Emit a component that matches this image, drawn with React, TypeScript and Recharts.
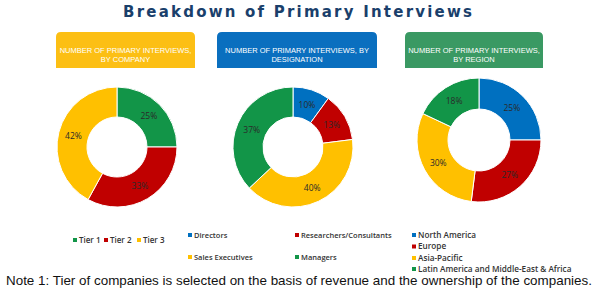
import React from "react";
import { PieChart, Pie, Cell } from "recharts";

const chartTitle = "Breakdown of Primary Interviews";
const headerLines = [
  ["NUMBER OF PRIMARY INTERVIEWS,", "BY COMPANY"],
  ["NUMBER OF PRIMARY INTERVIEWS, BY", "DESIGNATION"],
  ["NUMBER OF PRIMARY INTERVIEWS,", "BY REGION"],
];
const noteText =
  "Note 1: Tier of companies is selected on the basis of revenue and the ownership of the companies.";

const companyCategories = ["Tier 1", "Tier 2", "Tier 3"];
const companyValues = [25, 33, 42];
const designationCategories = ["Directors", "Researchers/Consultants", "Sales Executives", "Managers"];
const designationValues = [10, 13, 40, 37];
const regionCategories = ["North America", "Europe", "Asia-Pacific", "Latin America and Middle-East & Africa"];
const regionValues = [25, 27, 30, 18];

const GREEN = "#129548";
const RED = "#c00000";
const YELLOW = "#ffc000";
const BLUE = "#0070c0";

const companyColors = [GREEN, RED, YELLOW];
const designationColors = [BLUE, RED, YELLOW, GREEN];
const regionColors = [BLUE, RED, YELLOW, GREEN];
const headerColors = ["#fcbf14", "#0a6fbf", "#3a9963"];

const companyData = companyCategories.map((name, i) => ({ name, value: companyValues[i] }));
const designationData = designationCategories.map((name, i) => ({ name, value: designationValues[i] }));
const regionData = regionCategories.map((name, i) => ({ name, value: regionValues[i] }));

const RAD = Math.PI / 180;
const renderLabel = (p: any) => {
  const r = (p.innerRadius + p.outerRadius) / 2;
  const x = p.cx + r * Math.cos(-p.midAngle * RAD);
  const y = p.cy + r * Math.sin(-p.midAngle * RAD);
  return (
    <text
      x={x}
      y={y}
      textAnchor="middle"
      dominantBaseline="central"
      fontSize={8.5}
      fontFamily="'Open Sans', sans-serif"
      fill="#2a2a2a"
    >
      {`${p.value}%`}
    </text>
  );
};

const headerBoxes = [
  { x: 56, w: 139 },
  { x: 217, w: 160 },
  { x: 405, w: 138 },
];

const legendFont = "'Open Sans', sans-serif";

function Swatch({ x, y, color }: { x: number; y: number; color: string }) {
  return <rect x={x - 2} y={y - 2} width={4} height={4} fill={color} />;
}

export default function App() {
  const companyLegendX = [75, 106, 139];
  const designationLegendPos = [
    [190, 235],
    [297, 235],
    [190, 257],
    [297, 257],
  ];
  const regionLegendY = [235, 246.5, 258, 269];
  return (
    <div style={{ position: "absolute", left: 0, top: 0, width: 600, height: 289, background: "#fff" }}>
      <svg width={600} height={289} style={{ position: "absolute", left: 0, top: 0 }}>
        <text
          x={123}
          y={17}
          textLength={349}
          lengthAdjust="spacing"
          fontFamily="'DejaVu Sans', Verdana, sans-serif"
          fontWeight="bold"
          fontSize={15}
          fill="#1a3f6b"
        >
          {chartTitle}
        </text>
        {headerBoxes.map((b, i) => (
          <g key={i}>
            <path
              d={`M${b.x},68 L${b.x},37 Q${b.x},32 ${b.x + 5},32 L${b.x + b.w - 5},32 Q${b.x + b.w},32 ${b.x + b.w},37 L${b.x + b.w},68 Z`}
              fill={headerColors[i]}
            />
            {headerLines[i].map((ln, j) => (
              <text
                key={j}
                x={b.x + b.w / 2}
                y={53 + j * 9}
                textAnchor="middle"
                fontFamily="'Liberation Sans', Arial, sans-serif"
                fontSize={7.5}
                fill="#fff"
              >
                {ln}
              </text>
            ))}
          </g>
        ))}
        {companyCategories.map((c, i) => (
          <g key={c}>
            <Swatch x={companyLegendX[i]} y={240} color={companyColors[i]} />
            <text x={companyLegendX[i] + 4} y={242.8} fontSize={8} fontWeight={600} fontFamily={legendFont} fill="#333">
              {c}
            </text>
          </g>
        ))}
        {designationCategories.map((c, i) => (
          <g key={c}>
            <Swatch x={designationLegendPos[i][0]} y={designationLegendPos[i][1]} color={designationColors[i]} />
            <text
              x={designationLegendPos[i][0] + 4}
              y={designationLegendPos[i][1] + 2.7}
              fontSize={7.5}
              fontWeight={600}
              fontFamily={legendFont}
              fill="#333"
            >
              {c}
            </text>
          </g>
        ))}
        {regionCategories.map((c, i) => (
          <g key={c}>
            <Swatch x={414} y={regionLegendY[i]} color={regionColors[i]} />
            <text x={418} y={regionLegendY[i] + 2.8} fontSize={8.2} fontWeight={600} fontFamily={legendFont} fill="#333">
              {c}
            </text>
          </g>
        ))}
        <text
          x={6}
          y={285}
          textLength={586}
          lengthAdjust="spacingAndGlyphs"
          fontFamily="'Liberation Sans Narrow', 'Liberation Sans', Arial, sans-serif"
          fontSize={13}
          fill="#111"
        >
          {noteText}
        </text>
      </svg>
      <div style={{ position: "absolute", left: 0, top: 0 }}>
        <PieChart width={600} height={289} margin={{ top: 0, right: 0, bottom: 0, left: 0 }}>
          <Pie
            data={companyData}
            dataKey="value"
            nameKey="name"
            cx={117}
            cy={147}
            innerRadius={30}
            outerRadius={60}
            startAngle={90}
            endAngle={-270}
            stroke="#fff"
            strokeWidth={1}
            label={renderLabel}
            labelLine={false}
            isAnimationActive={false}
          >
            {companyData.map((d, i) => (
              <Cell key={d.name} fill={companyColors[i]} />
            ))}
          </Pie>
          <Pie
            data={designationData}
            dataKey="value"
            nameKey="name"
            cx={293}
            cy={147}
            innerRadius={30}
            outerRadius={60}
            startAngle={90}
            endAngle={-270}
            stroke="#fff"
            strokeWidth={1}
            label={renderLabel}
            labelLine={false}
            isAnimationActive={false}
          >
            {designationData.map((d, i) => (
              <Cell key={d.name} fill={designationColors[i]} />
            ))}
          </Pie>
          <Pie
            data={regionData}
            dataKey="value"
            nameKey="name"
            cx={479}
            cy={140}
            innerRadius={31}
            outerRadius={62}
            startAngle={90}
            endAngle={-270}
            stroke="#fff"
            strokeWidth={1}
            label={renderLabel}
            labelLine={false}
            isAnimationActive={false}
          >
            {regionData.map((d, i) => (
              <Cell key={d.name} fill={regionColors[i]} />
            ))}
          </Pie>
        </PieChart>
      </div>
    </div>
  );
}
